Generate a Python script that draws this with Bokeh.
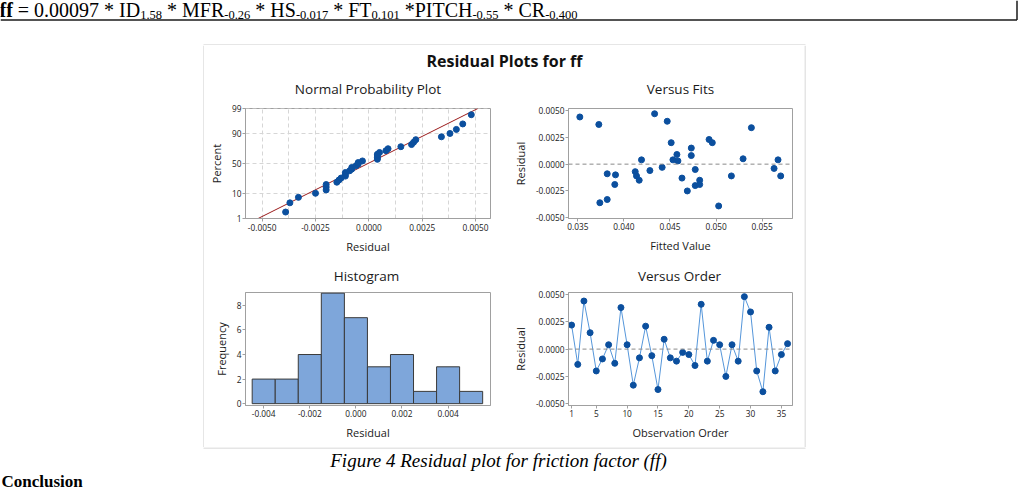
from statistics import NormalDist
from bokeh.plotting import figure
from bokeh.models import Range1d, FixedTicker, NumeralTickFormatter, Span, ColumnDataSource
from bokeh.layouts import column, row
from bokeh.embed import file_html
from bokeh.resources import INLINE
from bokeh.core.properties import value

# ---------------- data ----------------
order_obs = list(range(1, 37))
order_resid = [0.0022, -0.0014, 0.0044, 0.0015, -0.0020, -0.0009, 0.0004, -0.0013, 0.0038, 0.0004,
               -0.0033, -0.0008, 0.0021, -0.0006, -0.0037, 0.0009, -0.0008, -0.0011, -0.0003, -0.0005,
               -0.0015, 0.0041, -0.0011, 0.0008, 0.0004, -0.0025, 0.0004, -0.0011, 0.0048, 0.0034,
               -0.0020, -0.0039, 0.0020, -0.0020, -0.0005, 0.0005]

fits_x = [0.03522, 0.03728, 0.03739, 0.03819, 0.03819, 0.03909, 0.03901, 0.04123, 0.04137, 0.04166,
          0.04191, 0.04282, 0.04333, 0.04415, 0.04470, 0.04513, 0.04532, 0.04575, 0.04586, 0.04731,
          0.04731, 0.04774, 0.04630, 0.04688, 0.04822, 0.04774, 0.04822, 0.04924, 0.04959, 0.05028,
          0.05166, 0.05293, 0.05383, 0.05629, 0.05672, 0.05701]
fits_resid = [0.0044, 0.0037, -0.0036, -0.0033, -0.0009, -0.0010, -0.0019, -0.0007, -0.0011, -0.0015,
              0.0004, -0.0006, 0.0047, -0.0003, 0.0040, 0.0020, 0.0004, 0.0009, 0.0003, 0.0015,
              0.0008, -0.0005, -0.0013, -0.0025, -0.0015, -0.0020, -0.0019, 0.0023, 0.0020, -0.0039,
              -0.0011, 0.0005, 0.0034, -0.0004, 0.0004, -0.0011]

hist_centers = [-0.004, -0.003, -0.002, -0.001, 0.000, 0.001, 0.002, 0.003, 0.004, 0.005]
hist_counts = [2, 2, 4, 9, 7, 3, 4, 1, 3, 1]
hist_bin_width = 0.001

npp_fit_mean = -0.00003
npp_fit_sd = 0.00220
npp_pct_ticks = [1, 10, 50, 90, 99]

panel_titles_top = ["Normal Probability Plot", "Versus Fits"]
panel_titles_bottom = ["Histogram", "Versus Order"]

# ---------------- styling ----------------
FONT = "Open Sans"
SERIF = "Liberation Serif"
FRAME = "#a0a0a0"
PT = "#0b4f9e"
BOXGREY = "#cccccc"


def blank(w, h, x0, x1, y0, y1):
    p = figure(width=w, height=h, x_range=Range1d(x0, x1), y_range=Range1d(y0, y1),
               x_axis_type=None, y_axis_type=None, toolbar_location=None,
               output_backend="svg", min_border=0)
    p.outline_line_color = None
    p.grid.visible = False
    p.background_fill_color = "white"
    p.border_fill_color = "white"
    return p


def panel(w, h, xr, yr, bl, br, bt, bb, xlabel, ylabel):
    p = figure(width=w, height=h, x_range=xr, y_range=yr, toolbar_location=None,
               output_backend="svg", min_border_left=bl, min_border_right=br,
               min_border_top=bt, min_border_bottom=bb)
    p.outline_line_color = FRAME
    p.outline_line_width = 1
    p.grid.visible = False
    for ax in (p.xaxis[0], p.yaxis[0]):
        ax.axis_line_color = FRAME
        ax.major_tick_line_color = FRAME
        ax.major_tick_out = 3
        ax.major_tick_in = 0
        ax.minor_tick_line_color = None
        ax.major_label_text_font = FONT
        ax.major_label_text_font_size = "8.3px"
        ax.major_label_text_color = "#1a1a1a"
        ax.major_label_standoff = 1
        ax.axis_label_text_font = FONT
        ax.axis_label_text_font_size = "11px"
        ax.axis_label_text_font_style = "normal"
        ax.axis_label_text_color = "#1a1a1a"
        ax.axis_label_standoff = 5
    p.xaxis.axis_label = xlabel
    p.yaxis.axis_label = ylabel
    return p


# ---------------- header (formula) ----------------
W_TIMES = {' ': 250, '=': 564, '.': 250, '-': 333, '*': 500, 'I': 333, 'D': 722, 'M': 889,
           'F': 556, 'R': 667, 'H': 722, 'S': 556, 'T': 611, 'P': 556, 'C': 667, 'f': 333}
for d in "0123456789":
    W_TIMES[d] = 500

segments = [("ff", "main", "bold"), (" = 0.00097 * ID", "main", "normal"), ("1.58", "sub", "normal"),
            (" * MFR", "main", "normal"), ("-0.26", "sub", "normal"), (" * HS", "main", "normal"),
            ("-0.017", "sub", "normal"), (" * FT", "main", "normal"), ("0.101", "sub", "normal"),
            (" *PITCH", "main", "normal"), ("-0.55", "sub", "normal"), (" * CR", "main", "normal"),
            ("-0.400", "sub", "normal")]
MAIN, SUB = 20.0, 12.5
MID = 0.3375  # middle of the serif text box, above the baseline, in em
xs, ys, ts, sz, st = [], [], [], [], []
cx = -1.0
for t, kind, style in segments:
    s = MAIN if kind == "main" else SUB
    base = 16.5 if kind == "main" else 19.2
    lead = len(t) - len(t.lstrip(" "))
    xs.append(cx + lead * W_TIMES[' '] * s / 1000.0)
    ys.append(base - MID * s)
    ts.append(t.strip(" "))
    sz.append("%gpx" % s)
    st.append(style)
    cx += sum(W_TIMES.get(c, 500) for c in t) * s / 1000.0

header = blank(1019, 45, 0, 1019, 45, 0)
header.text(x="x", y="y", text="t", source=ColumnDataSource(dict(x=xs, y=ys, t=ts, s=sz, st=st)),
            text_font=value(SERIF), text_font_size="s", text_font_style="st",
            text_baseline="middle", text_align="left", text_color="#000000")
header.segment(x0=[0, 1016.5], y0=[19.5, 0], x1=[1016.5, 1016.5], y1=[19.5, 19.5],
               line_color="#1a1a1a", line_width=1.5)
header.segment(x0=[203], y0=[44.5], x1=[805], y1=[44.5], line_color=BOXGREY, line_width=1)

# ---------------- side strips with box edges ----------------
left_fig = blank(204, 402, 0, 204, 0, 402)
left_fig.add_layout(Span(location=203.5, dimension="height", line_color=BOXGREY, line_width=1))
right_fig = blank(215, 402, 0, 215, 0, 402)
right_fig.add_layout(Span(location=0.5, dimension="height", line_color=BOXGREY, line_width=1))

# ---------------- main title + top panel titles (y 45..100) ----------------
title_fig = blank(600, 55, 0, 600, 55, 0)
title_fig.text(x=[300], y=[15], text=["Residual Plots for ff"], text_font=value(FONT),
               text_font_size="16px", text_font_style="bold", text_align="center",
               text_baseline="middle", text_color="#111111")
title_fig.text(x=[163.5, 476], y=[43.5, 43.5], text=panel_titles_top, text_font=value(FONT),
               text_font_size="13.5px", text_align="center", text_baseline="middle",
               text_color="#1a1a1a")

# ---------------- bottom panel titles (y 260..286) ----------------
sub_fig = blank(600, 26, 0, 600, 26, 0)
sub_fig.text(x=[162, 475], y=[15.5, 15.5], text=panel_titles_bottom, text_font=value(FONT),
             text_font_size="13.5px", text_align="center", text_baseline="middle",
             text_color="#1a1a1a")

# ---------------- Normal probability plot ----------------
nd = NormalDist()
sorted_res = sorted(order_resid)
n = len(sorted_res)
npp_z = [nd.inv_cdf((i + 1 - 0.3) / (n + 0.4)) for i in range(n)]
z_lo, z_hi = -2.345, 2.335

npp = panel(302, 160, Range1d(-0.00578, 0.0057), Range1d(z_lo, z_hi), 41, 16, 8, 41,
            "Residual", "Percent")
npp.xaxis.ticker = FixedTicker(ticks=[-0.005, -0.0025, 0.0, 0.0025, 0.005],
                               minor_ticks=[-0.00375, -0.00125, 0.00125, 0.00375])
npp.xaxis.formatter = NumeralTickFormatter(format="0.0000")
zt = [nd.inv_cdf(q / 100.0) for q in npp_pct_ticks]
npp.yaxis.ticker = FixedTicker(ticks=zt)
npp.yaxis.major_label_overrides = {z: str(q) for z, q in zip(zt, npp_pct_ticks)}
npp.xgrid.visible = True
npp.ygrid.visible = True
for g in (npp.xgrid[0], npp.ygrid[0]):
    g.grid_line_color = "#d6d6d6"
    g.grid_line_dash = "4 3"
npp.xgrid.minor_grid_line_color = "#d6d6d6"
npp.xgrid.minor_grid_line_dash = "4 3"
npp.line(x=[npp_fit_mean + npp_fit_sd * z_lo, npp_fit_mean + npp_fit_sd * z_hi], y=[z_lo, z_hi],
         line_color="#9b1c1c", line_width=1)
npp.scatter(x=sorted_res, y=npp_z, size=6, color=PT)

# ---------------- Versus fits ----------------
fits = panel(298, 160, Range1d(0.03399, 0.05829), Range1d(-0.00507, 0.00519), 62, 12, 8, 42,
             "Fitted Value", "Residual")
fits.xaxis.ticker = FixedTicker(ticks=[0.035, 0.040, 0.045, 0.050, 0.055])
fits.xaxis.formatter = NumeralTickFormatter(format="0.000")
fits.yaxis.ticker = FixedTicker(ticks=[-0.005, -0.0025, 0.0, 0.0025, 0.005])
fits.yaxis.formatter = NumeralTickFormatter(format="0.0000")
fits.add_layout(Span(location=0, dimension="width", line_color="#8a8a8a", line_dash="4 3", line_width=1))
fits.scatter(x=fits_x, y=fits_resid, size=6, color=PT)

# ---------------- Histogram ----------------
hist = panel(302, 161, Range1d(-0.00479, 0.00584), Range1d(-0.15, 9.05), 41, 16, 6, 41,
             "Residual", "Frequency")
hist.xaxis.ticker = FixedTicker(ticks=[-0.004, -0.002, 0.0, 0.002, 0.004])
hist.xaxis.formatter = NumeralTickFormatter(format="0.000")
hist.yaxis.ticker = FixedTicker(ticks=[0, 2, 4, 6, 8])
hist.vbar(x=hist_centers, width=hist_bin_width, top=hist_counts, bottom=0,
          fill_color="#7ea6da", line_color="#3a3a3a", line_width=1)

# ---------------- Versus order ----------------
order = panel(298, 161, Range1d(0.5, 36.8), Range1d(-0.00516, 0.00518), 62, 12, 6, 42,
              "Observation Order", "Residual")
order.xaxis.ticker = FixedTicker(ticks=[1, 5, 10, 15, 20, 25, 30, 35])
order.yaxis.ticker = FixedTicker(ticks=[-0.005, -0.0025, 0.0, 0.0025, 0.005])
order.yaxis.formatter = NumeralTickFormatter(format="0.0000")
order.add_layout(Span(location=0, dimension="width", line_color="#8a8a8a", line_dash="4 3", line_width=1))
order.line(x=order_obs, y=order_resid, line_color="#5596da", line_width=1)
order.scatter(x=order_obs, y=order_resid, size=6, color=PT)

# ---------------- footer ----------------
footer = blank(1019, 43, 0, 1019, 490, 447)
footer.segment(x0=[203], y0=[447.5], x1=[805], y1=[447.5], line_color=BOXGREY, line_width=1)
footer.text(x=[498], y=[459.8], text=["Figure 4 Residual plot for friction factor (ff)"],
            text_font=value(SERIF), text_font_size="19px", text_font_style="italic",
            text_align="center", text_baseline="middle", text_color="#000000")
footer.text(x=[1], y=[480.5], text=["Conclusion"], text_font=value(SERIF), text_font_size="17px",
            text_font_style="bold", text_align="left", text_baseline="middle", text_color="#000000")

center = column(title_fig, row(npp, fits), sub_fig, row(hist, order))
layout = column(header, row(left_fig, center, right_fig), footer)

open("out.html", "w").write(file_html(layout, INLINE))
